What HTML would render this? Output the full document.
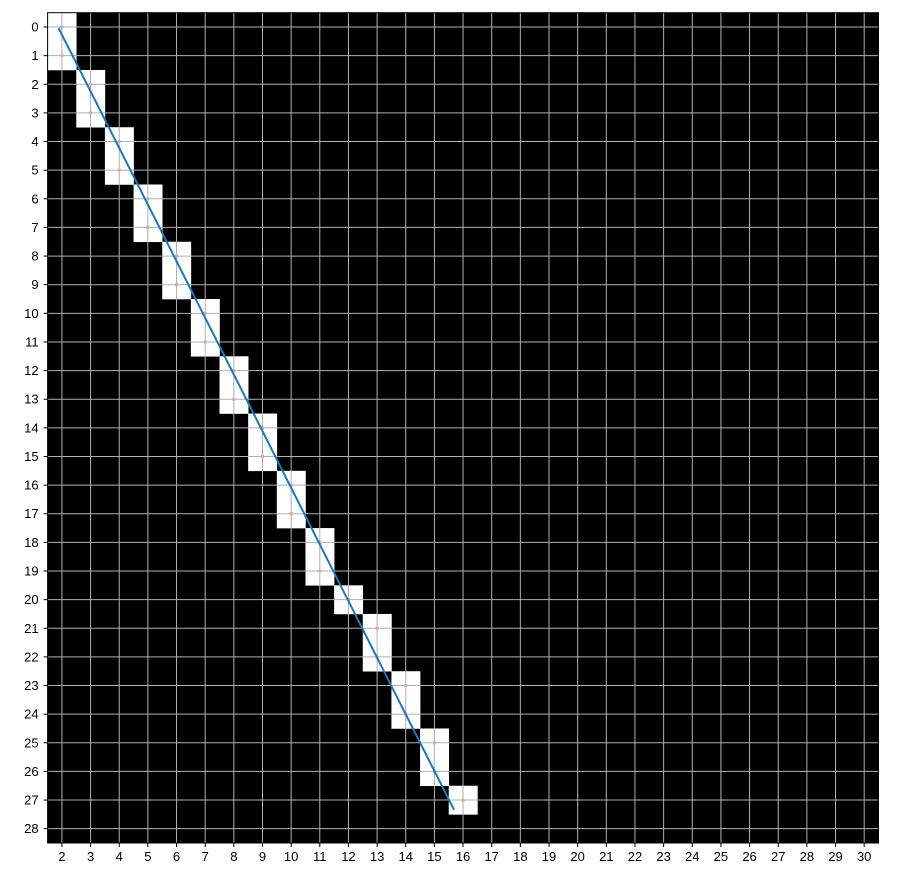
<!DOCTYPE html>
<html><head><meta charset="utf-8">
<style>
html,body{margin:0;padding:0;background:#fff;}
svg{display:block;font-family:"Liberation Sans","DejaVu Sans",sans-serif;}
</style></head>
<body>
<svg id="chart" width="904" height="879" xmlns="http://www.w3.org/2000/svg"></svg>
<script>
// data
const cellCols = [2,2,3,3,4,4,5,5,6,6,7,7,8,8,9,9,10,10,11,11,12,13,13,14,14,15,15,16];
const cellRows = [0,1,2,3,4,5,6,7,8,9,10,11,12,13,14,15,16,17,18,19,20,21,22,23,24,25,26,27];
const lineX = [1.9, 15.67];
const lineY = [0.07, 27.31];
const xTicks = [2,3,4,5,6,7,8,9,10,11,12,13,14,15,16,17,18,19,20,21,22,23,24,25,26,27,28,29,30];
const yTicks = [0,1,2,3,4,5,6,7,8,9,10,11,12,13,14,15,16,17,18,19,20,21,22,23,24,25,26,27,28];

const L=47.6, R=878.5, T=12.7, B=843;
const xMin=1.5, xMax=30.5, yMin=-0.5, yMax=28.5;
const sx = v => L + (v - xMin) / (xMax - xMin) * (R - L);
const sy = v => T + (v - yMin) / (yMax - yMin) * (B - T);
const svg = document.getElementById('chart');
const NS = 'http://www.w3.org/2000/svg';
function mk(tag, attrs){const e=document.createElementNS(NS,tag);for(const k in attrs)e.setAttribute(k,attrs[k]);svg.appendChild(e);return e;}

let bg = mk('rect',{x:L,y:T,width:R-L,height:B-T,fill:'#000'});



for(let i=0;i<cellRows.length;i++){
  const c=cellCols[i], r=cellRows[i];
  const e=mk('rect',{x:sx(c-0.5),y:sy(r-0.5),width:sx(c+0.5)-sx(c-0.5)+0.3,height:sy(r+0.5)-sy(r-0.5)+0.3,fill:'#fff'});
  
  
}
// grid
xTicks.forEach(t=>{
  const g=mk('line',{x1:sx(t),x2:sx(t),y1:T,y2:B,stroke:'#b0b0b0','stroke-width':1});
  
  
  const tk=mk('line',{x1:sx(t),x2:sx(t),y1:B,y2:B+4,stroke:'#000','stroke-width':1});
  
  
  const tx=mk('text',{x:sx(t),y:B+18,'text-anchor':'middle','font-size':13,fill:'#000'});
  tx.textContent=t;
  
  
});
yTicks.forEach(t=>{
  const g=mk('line',{x1:L,x2:R,y1:sy(t),y2:sy(t),stroke:'#b0b0b0','stroke-width':1});
  
  
  const tk=mk('line',{x1:L-4,x2:L,y1:sy(t),y2:sy(t),stroke:'#000','stroke-width':1});
  
  
  const tx=mk('text',{x:L-9,y:sy(t)+4.5,'text-anchor':'end','font-size':13,fill:'#000'});
  tx.textContent=t;
  
  
});
// markers
for(let i=0;i<cellRows.length;i++){
  const m=mk('rect',{x:sx(cellCols[i])-1.5,y:sy(cellRows[i])-1.5,width:3,height:3,fill:'#d9a8a8'});
  
  
}
const ln=mk('line',{x1:sx(lineX[0]),y1:sy(lineY[0]),x2:sx(lineX[1]),y2:sy(lineY[1]),stroke:'#1f77b4','stroke-width':2,'stroke-linecap':'square'});


const fr=mk('rect',{x:L,y:T,width:R-L,height:B-T,fill:'none',stroke:'#000','stroke-width':1});


</script>
</body></html>
